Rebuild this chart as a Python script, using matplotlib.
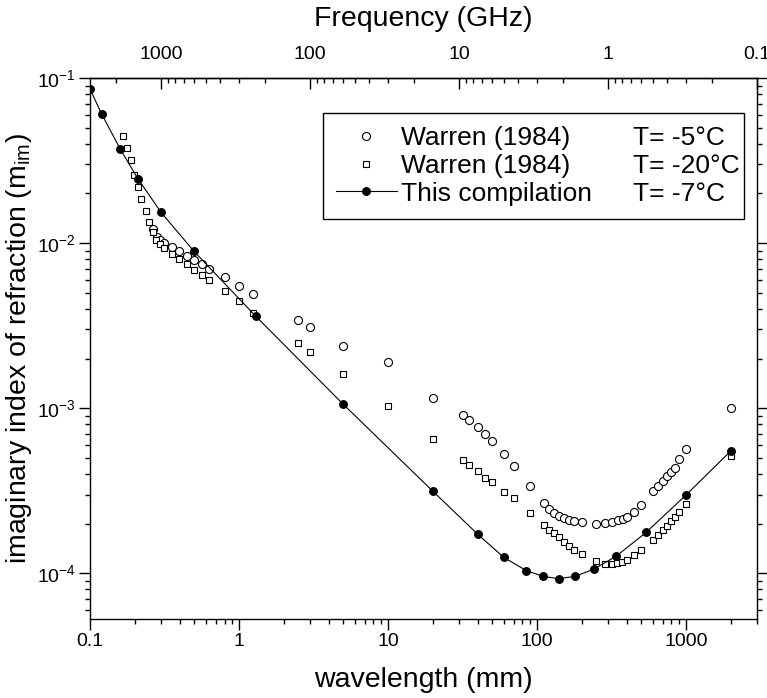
import numpy as np
import matplotlib.pyplot as plt
from matplotlib import ticker
from matplotlib.lines import Line2D

plt.rcParams['font.family'] = ['Liberation Sans', 'DejaVu Sans']
plt.rcParams['mathtext.fontset'] = 'custom'
plt.rcParams['mathtext.rm'] = 'Liberation Sans'
plt.rcParams['mathtext.it'] = 'Liberation Sans:italic'
plt.rcParams['mathtext.bf'] = 'Liberation Sans:bold'
plt.rcParams['axes.unicode_minus'] = False

# This compilation, T = -7 C
wl_comp = [0.1, 0.12, 0.16, 0.21, 0.3, 0.5, 1.3, 5, 20, 40, 60, 85, 110, 140,
           180, 240, 340, 540, 1000, 2000]
m_comp = [0.0858, 0.0603, 0.0370, 0.0245, 0.01535, 0.00891, 0.00360, 1.06e-3,
          3.15e-4, 1.73e-4, 1.25e-4, 1.04e-4, 9.6e-5, 9.3e-5, 9.6e-5, 1.06e-4,
          1.27e-4, 1.77e-4, 2.98e-4, 5.51e-4]

# Warren (1984), T = -20 C
wl_w20 = [0.166, 0.178, 0.188, 0.198, 0.209, 0.221, 0.236, 0.25, 0.264, 0.279,
          0.295, 0.314, 0.354, 0.396, 0.447, 0.5, 0.563, 0.63, 0.8, 1.0, 1.25,
          2.5, 3.0, 5, 10, 20, 32, 35, 40, 45, 50, 60, 70, 90, 111, 120, 131,
          141, 151, 165, 178, 200, 250, 287, 317, 345, 370, 400, 448, 500, 600,
          650, 700, 750, 800, 850, 900, 1000, 2000]
m_w20 = [0.0445, 0.0378, 0.0318, 0.0259, 0.0219, 0.01856, 0.0157, 0.01335,
         0.01166, 0.01042, 0.00982, 0.00929, 0.00854, 0.0080, 0.00743, 0.00689,
         0.0064, 0.00594, 0.00514, 0.00445, 0.0038, 0.00247, 0.00218, 1.61e-3,
         1.03e-3, 6.52e-4, 4.84e-4, 4.56e-4, 4.15e-4, 3.80e-4, 3.56e-4, 3.11e-4,
         2.86e-4, 2.33e-4, 1.97e-4, 1.84e-4, 1.75e-4, 1.66e-4, 1.56e-4, 1.47e-4,
         1.39e-4, 1.32e-4, 1.19e-4, 1.14e-4, 1.14e-4, 1.15e-4, 1.18e-4, 1.21e-4,
         1.29e-4, 1.39e-4, 1.60e-4, 1.70e-4, 1.82e-4, 1.94e-4, 2.07e-4, 2.21e-4,
         2.37e-4, 2.63e-4, 5.12e-4]

# Warren (1984), T = -5 C
wl_w5 = [0.265, 0.28, 0.295, 0.314, 0.354, 0.396, 0.447, 0.5, 0.563, 0.63, 0.8,
         1.0, 1.25, 2.5, 3.0, 5, 10, 20, 32, 35, 40, 45, 50, 60, 70, 90, 111,
         120, 131, 141, 151, 165, 178, 200, 250, 287, 317, 350, 378, 400, 448,
         500, 600, 650, 700, 750, 800, 850, 900, 1000, 2000]
m_w5 = [0.01216, 0.01092, 0.0104, 0.01004, 0.0095, 0.00894, 0.00838, 0.00789,
        0.00743, 0.00696, 0.0062, 0.00548, 0.00489, 0.00343, 0.00311, 0.00239,
        1.9e-3, 1.16e-3, 9.07e-4, 8.49e-4, 7.67e-4, 6.95e-4, 6.34e-4, 5.28e-4,
        4.45e-4, 3.38e-4, 2.67e-4, 2.45e-4, 2.32e-4, 2.24e-4, 2.16e-4, 2.11e-4,
        2.07e-4, 2.04e-4, 2.0e-4, 2.03e-4, 2.05e-4, 2.10e-4, 2.15e-4, 2.21e-4,
        2.37e-4, 2.59e-4, 3.15e-4, 3.37e-4, 3.61e-4, 3.87e-4, 4.13e-4, 4.37e-4,
        4.95e-4, 5.66e-4, 1.01e-3]


def wl_to_ghz(w):
    with np.errstate(divide='ignore'):
        return 299.792458 / np.asarray(w, dtype=float)


fig = plt.figure(figsize=(7.67, 6.98), dpi=100)
ax = fig.add_axes([0.1173, 0.1132, 0.8696, 0.7751])

h5, = ax.plot(wl_w5, m_w5, 'o', ms=5.8, mfc='white', mec='black', mew=0.8)
h20, = ax.plot(wl_w20, m_w20, 's', ms=4.9, mfc='white', mec='black', mew=0.8)
hc, = ax.plot(wl_comp, m_comp, '-o', color='black', lw=0.8, ms=5.4)

ax.set_xscale('log')
ax.set_yscale('log')
ax.set_xlim(0.1, 3000)
ax.set_ylim(5.3e-5, 0.1)

ax.xaxis.set_major_locator(ticker.LogLocator(base=10))
ax.xaxis.set_minor_locator(ticker.LogLocator(base=10, subs=np.arange(2, 10)))
ax.xaxis.set_major_formatter(ticker.FormatStrFormatter('%g'))
ax.xaxis.set_minor_formatter(ticker.NullFormatter())
ax.yaxis.set_major_locator(ticker.LogLocator(base=10))
ax.yaxis.set_minor_locator(ticker.LogLocator(base=10, subs=np.arange(2, 10)))
ax.yaxis.set_minor_formatter(ticker.NullFormatter())

ax.tick_params(which='both', direction='out', width=1, labelsize=14, pad=2)
ax.tick_params(which='major', length=8)
ax.tick_params(which='minor', length=3.5)
ax.tick_params(axis='x', which='both', top=False)
ax.tick_params(axis='y', which='both', right=True)
for s in ax.spines.values():
    s.set_linewidth(1)

ax.set_xlabel('wavelength (mm)', fontsize=20.5, labelpad=12)
ax.set_ylabel('imaginary index of refraction (m$_{\\mathrm{im}}$)', fontsize=20.5,
              labelpad=2)

secax = ax.secondary_xaxis('top', functions=(wl_to_ghz, wl_to_ghz))
secax.xaxis.set_major_locator(ticker.LogLocator(base=10))
secax.xaxis.set_minor_locator(ticker.LogLocator(base=10, subs=np.arange(2, 10)))
secax.xaxis.set_major_formatter(ticker.FormatStrFormatter('%g'))
secax.xaxis.set_minor_formatter(ticker.NullFormatter())
secax.tick_params(which='both', direction='in', width=1, labelsize=14, pad=11)
secax.tick_params(which='major', length=8)
secax.tick_params(which='minor', length=3.5)
secax.spines['top'].set_linewidth(1)
secax.set_xlabel('Frequency (GHz)', fontsize=20.5, labelpad=14)

leg_kw = dict(fontsize=19, labelspacing=0.15, borderpad=0.5, borderaxespad=0)
leg1 = ax.legend([h5, h20, hc], ['Warren (1984)', 'Warren (1984)', 'This compilation'],
                 loc='upper left', bbox_to_anchor=(0.349, 0.734, 0.6315, 0.202),
                 mode='expand', handlelength=2.3, handletextpad=0.15,
                 fancybox=False, edgecolor='black', framealpha=1, **leg_kw)
leg1.get_frame().set_linewidth(1)
ax.add_artist(leg1)
blank = Line2D([], [], linestyle='none')
ax.legend([blank] * 3, ['T= -5°C', 'T= -20°C', 'T= -7°C'],
          loc='upper left', bbox_to_anchor=(0.795, 0.936), handlelength=0,
          handletextpad=0, frameon=False, **leg_kw)

fig.savefig('out.png', dpi=100)
